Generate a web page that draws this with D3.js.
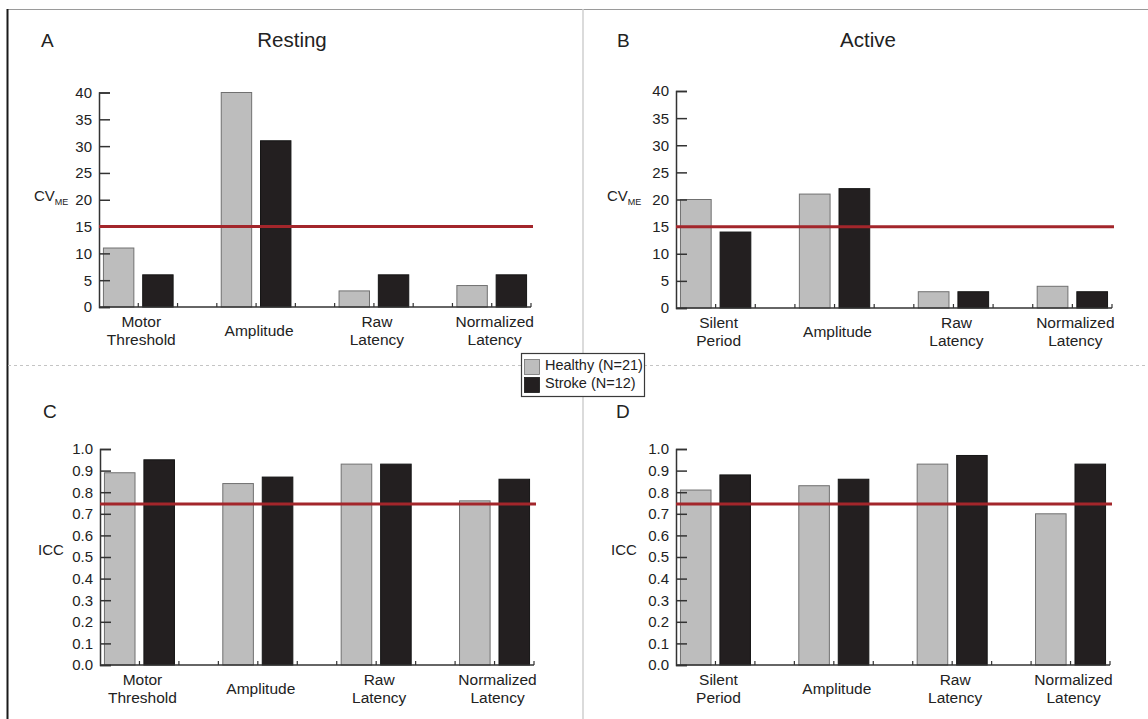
<!DOCTYPE html>
<html>
<head>
<meta charset="utf-8">
<script src="https://cdn.jsdelivr.net/npm/d3@7"></script>
<style>
  html, body { margin: 0; padding: 0; background: #fff; }
  svg { display: block; font-family: "Liberation Sans", Arial, sans-serif; }
</style>
</head>
<body>
<svg id="chart" width="1148" height="719"></svg>
<script>
// Measures shown in each panel (category labels split over lines with "\n")
const restingCategories = ["Motor\nThreshold", "Amplitude", "Raw\nLatency", "Normalized\nLatency"];
const activeCategories  = ["Silent\nPeriod", "Amplitude", "Raw\nLatency", "Normalized\nLatency"];

// Coefficient of variation of measurement error (%)
const cvRestingHealthy = [11, 40, 3, 4];
const cvRestingStroke  = [6, 31, 6, 6];
const cvActiveHealthy  = [20, 21, 3, 4];
const cvActiveStroke   = [14, 22, 3, 3];

// Intraclass correlation coefficients
const iccRestingHealthy = [0.89, 0.84, 0.93, 0.76];
const iccRestingStroke  = [0.95, 0.87, 0.93, 0.86];
const iccActiveHealthy  = [0.81, 0.83, 0.93, 0.70];
const iccActiveStroke   = [0.88, 0.86, 0.97, 0.93];

// Axis ticks and reference thresholds
const cvTicks  = [0, 5, 10, 15, 20, 25, 30, 35, 40];
const iccTicks = [0.0, 0.1, 0.2, 0.3, 0.4, 0.5, 0.6, 0.7, 0.8, 0.9, 1.0];
const cvThreshold  = 15;
const iccThreshold = 0.745;

const groupNames = ["Healthy (N=21)", "Stroke (N=12)"];
const groupColors = ["#bdbdbd", "#231f20"];
const groupStrokes = ["#707070", "#151515"];

const svg = d3.select("#chart");
const ink = "#222";
const axisInk = "#333";
const refRed = "#a3262b";

// ---- page frame and panel dividers ----
svg.append("line").attr("x1", 7).attr("x2", 1148).attr("y1", 9.5).attr("y2", 9.5)
  .attr("stroke", "#9a9a9a").attr("stroke-width", 1.2);
svg.append("line").attr("x1", 7.5).attr("x2", 7.5).attr("y1", 9).attr("y2", 719)
  .attr("stroke", "#1a1a1a").attr("stroke-width", 2);
svg.append("line").attr("x1", 583).attr("x2", 583).attr("y1", 9).attr("y2", 719)
  .attr("stroke", "#cfcfcf").attr("stroke-width", 1.5);
svg.append("line").attr("x1", 8).attr("x2", 1148).attr("y1", 365.5).attr("y2", 365.5)
  .attr("stroke", "#c4c4c4").attr("stroke-width", 1).attr("stroke-dasharray", "3,3");

// ---- panels ----
const panels = [
  { letter: "A", title: "Resting", cats: restingCategories, healthy: cvRestingHealthy, stroke: cvRestingStroke,
    ticks: cvTicks, fmt: d3.format("d"), domain: [0, 40], threshold: cvThreshold, ylabel: "cv",
    x0: 99, x1: 531, yBase: 307, yTop: 92.5, letterX: 41, titleX: 292, ylabelX: 34, ylabelY: 201 },
  { letter: "B", title: "Active", cats: activeCategories, healthy: cvActiveHealthy, stroke: cvActiveStroke,
    ticks: cvTicks, fmt: d3.format("d"), domain: [0, 40], threshold: cvThreshold, ylabel: "cv",
    x0: 676, x1: 1112, yBase: 308, yTop: 91, letterX: 617, titleX: 868, ylabelX: 607, ylabelY: 201 },
  { letter: "C", title: null, cats: restingCategories, healthy: iccRestingHealthy, stroke: iccRestingStroke,
    ticks: iccTicks, fmt: d3.format(".1f"), domain: [0, 1], threshold: iccThreshold, ylabel: "ICC",
    x0: 100, x1: 534, yBase: 665, yTop: 449, letterX: 43, titleX: 0, ylabelX: 38, ylabelY: 555 },
  { letter: "D", title: null, cats: activeCategories, healthy: iccActiveHealthy, stroke: iccActiveStroke,
    ticks: iccTicks, fmt: d3.format(".1f"), domain: [0, 1], threshold: iccThreshold, ylabel: "ICC",
    x0: 676, x1: 1110, yBase: 665, yTop: 449, letterX: 616, titleX: 0, ylabelX: 611, ylabelY: 555 }
];

panels.forEach(p => {
  const g = svg.append("g");
  const nSlots = p.cats.length * 3 - 1;   // healthy, stroke, gap ... (no trailing gap)
  const x = d3.scaleBand().domain(d3.range(nSlots)).range([p.x0, p.x1])
    .paddingInner(0.2).paddingOuter(0.1);
  const step = x.step();
  const y = d3.scaleLinear().domain(p.domain).range([p.yBase, p.yTop]);

  // panel letter and title
  const letterY = p.title ? 47 : 418;
  g.append("text").attr("x", p.letterX).attr("y", letterY)
    .attr("font-size", 19).attr("fill", ink).text(p.letter);
  if (p.title) {
    g.append("text").attr("x", p.titleX).attr("y", 47).attr("text-anchor", "middle")
      .attr("font-size", 20.5).attr("fill", ink).text(p.title);
  }

  // bars
  const rows = [];
  p.cats.forEach((c, i) => {
    rows.push({ slot: i * 3, value: p.healthy[i], grp: 0 });
    rows.push({ slot: i * 3 + 1, value: p.stroke[i], grp: 1 });
  });
  g.selectAll("rect.bar").data(rows).join("rect")
    .attr("class", "bar")
    .attr("x", d => x(d.slot) + 0.5)
    .attr("width", x.bandwidth() - 1)
    .attr("y", d => y(d.value))
    .attr("height", d => p.yBase - y(d.value))
    .attr("fill", d => groupColors[d.grp])
    .attr("stroke", d => groupStrokes[d.grp])
    .attr("stroke-width", 1);

  // y axis: ticks point inward, labels to the left
  const yAxis = d3.axisRight(y).tickValues(p.ticks).tickSize(11).tickFormat("");
  const ya = g.append("g").attr("transform", `translate(${p.x0},0)`).call(yAxis);
  ya.select(".domain").attr("stroke", axisInk).attr("stroke-width", 1.5);
  ya.selectAll(".tick line").attr("stroke", axisInk).attr("stroke-width", 1.5);
  g.selectAll("text.ytick").data(p.ticks).join("text")
    .attr("class", "ytick")
    .attr("x", p.x0 - 7).attr("y", d => y(d)).attr("dy", "0.36em")
    .attr("text-anchor", "end").attr("font-size", 15).attr("fill", ink)
    .text(p.fmt);

  // x axis baseline with small upward ticks at slot boundaries
  const slotEdges = d3.range(1, nSlots + 1).map(k => p.x0 + k * step);
  g.append("line").attr("x1", p.x0).attr("x2", p.x1).attr("y1", p.yBase).attr("y2", p.yBase)
    .attr("stroke", axisInk).attr("stroke-width", 1.5);
  g.selectAll("line.xtick").data(slotEdges).join("line")
    .attr("class", "xtick")
    .attr("x1", d => d).attr("x2", d => d)
    .attr("y1", p.yBase).attr("y2", p.yBase - 4)
    .attr("stroke", axisInk).attr("stroke-width", 1.2);

  // category labels, centred under each pair of bars
  p.cats.forEach((c, i) => {
    const cx = p.x0 + (i * 3 + 1) * step + 3;
    const lines = c.split("\n");
    const t = g.append("text").attr("text-anchor", "middle").attr("font-size", 15.5).attr("fill", ink);
    if (lines.length === 1) {
      t.append("tspan").attr("x", cx).attr("y", p.yBase + 29).text(lines[0]);
    } else {
      lines.forEach((ln, j) => {
        t.append("tspan").attr("x", cx).attr("y", p.yBase + 20 + j * 18).text(ln);
      });
    }
  });

  // reference threshold
  g.append("line").attr("x1", p.x0).attr("x2", p.x1 + 2)
    .attr("y1", y(p.threshold)).attr("y2", y(p.threshold))
    .attr("stroke", refRed).attr("stroke-width", 3);

  // y-axis title
  const yl = g.append("text").attr("x", p.ylabelX).attr("y", p.ylabelY)
    .attr("font-size", 15).attr("fill", ink);
  if (p.ylabel === "cv") {
    yl.append("tspan").text("CV");
    yl.append("tspan").attr("font-size", 9).attr("dy", 4).text("ME");
  } else {
    yl.text(p.ylabel);
  }
});

// ---- legend ----
const lg = svg.append("g");
lg.append("rect").attr("x", 521.5).attr("y", 353.5).attr("width", 123).attr("height", 43)
  .attr("fill", "#fff").attr("stroke", "#3a3a3a").attr("stroke-width", 1.2);
groupNames.forEach((name, i) => {
  lg.append("rect").attr("x", 524.5).attr("y", 359.5 + i * 18).attr("width", 15).attr("height", 15)
    .attr("fill", groupColors[i]).attr("stroke", groupStrokes[i]).attr("stroke-width", 0.8);
  lg.append("text").attr("x", 545).attr("y", 369.5 + i * 18)
    .attr("font-size", 14.5).attr("fill", ink).text(name);
});
</script>
</body>
</html>
